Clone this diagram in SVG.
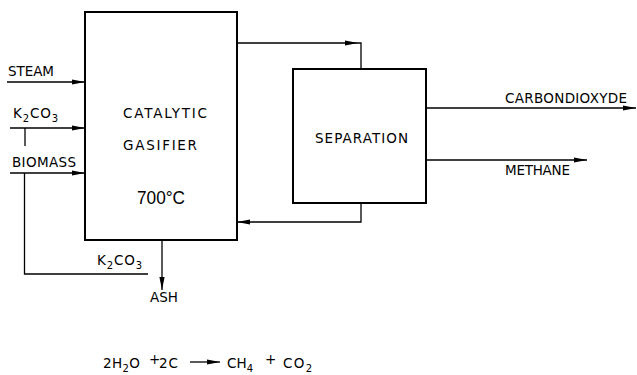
<svg xmlns="http://www.w3.org/2000/svg" xmlns:xlink="http://www.w3.org/1999/xlink" width="637" height="375" viewBox="0 0 637 375">
<style>
.box{fill:#fff;stroke:#000;stroke-width:2}
.ln{fill:none;stroke:#000;stroke-width:1.3}
.t{font-family:"DejaVu Sans","Liberation Sans",sans-serif;font-size:13.5px;fill:#000}
.big{font-family:"Liberation Sans","DejaVu Sans",sans-serif;font-size:19px;fill:#000}
.sub{font-size:10px}
</style>
<defs>
<path id="ah" d="M0,0 L-13,-2.6 L-13,2.6 Z" fill="#000"/>
</defs>
<rect width="637" height="375" fill="#fff"/>
<g id="gasifier">
<rect class="box" x="85" y="12" width="152" height="228"/>
<text class="t" x="123" y="118" textLength="84" lengthAdjust="spacing">CATALYTIC</text>
<text class="t" x="123" y="150" textLength="74" lengthAdjust="spacing">GASIFIER</text>
<text class="big" x="137" y="204" textLength="48" lengthAdjust="spacingAndGlyphs">700°C</text>
</g>
<g id="separation">
<rect class="box" x="293" y="69" width="133" height="134"/>
<text class="t" x="315" y="143" textLength="93" lengthAdjust="spacing">SEPARATION</text>
</g>
<g id="connectors">
<path class="ln" d="M7,82 H85"/><use href="#ah" x="85" y="82"/>
<path class="ln" d="M10,128 H85"/><use href="#ah" x="85" y="128"/>
<path class="ln" d="M25,128 V146"/>
<path class="ln" d="M10,173 H85"/><use href="#ah" x="85" y="173"/>
<path class="ln" d="M24.5,173 V274 H148"/>
<path class="ln" d="M162,240 V290"/><use href="#ah" transform="translate(162,290) rotate(90)"/>
<path class="ln" d="M237,43 H361 V69"/><use href="#ah" x="358" y="43"/>
<path class="ln" d="M361,203 V222 H237"/><use href="#ah" transform="translate(237,222) rotate(180)"/>
<path class="ln" d="M426,108 H636"/><use href="#ah" x="636" y="108"/>
<path class="ln" d="M426,160 H587"/><use href="#ah" x="587" y="160"/>
</g>
<g id="labels">
<text class="t" x="8" y="76" textLength="46" lengthAdjust="spacing">STEAM</text>
<text class="t" x="13" y="118" textLength="45" lengthAdjust="spacing">K<tspan class="sub" dy="4">2</tspan><tspan dy="-4">CO</tspan><tspan class="sub" dy="4">3</tspan></text>
<text class="t" x="12" y="167" textLength="64" lengthAdjust="spacing">BIOMASS</text>
<text class="t" x="97" y="265" textLength="45" lengthAdjust="spacing">K<tspan class="sub" dy="4">2</tspan><tspan dy="-4">CO</tspan><tspan class="sub" dy="4">3</tspan></text>
<text class="t" x="150" y="302" textLength="28" lengthAdjust="spacing">ASH</text>
<text class="t" x="505" y="103" textLength="122" lengthAdjust="spacing">CARBONDIOXYDE</text>
<text class="t" x="505" y="175" textLength="65" lengthAdjust="spacing">METHANE</text>
</g>
<g id="equation">
<text class="t" x="103" y="368" textLength="37" lengthAdjust="spacing">2H<tspan class="sub" dy="4">2</tspan><tspan dy="-4">O</tspan></text>
<text class="t" x="149" y="364" font-size="11">+</text>
<text class="t" x="159" y="368" textLength="19" lengthAdjust="spacing">2C</text>
<path class="ln" d="M190,362 H220"/><use href="#ah" x="220" y="362"/>
<text class="t" x="227" y="368" textLength="26" lengthAdjust="spacing">CH<tspan class="sub" dy="4">4</tspan></text>
<text class="t" x="265" y="364" font-size="11">+</text>
<text class="t" x="283" y="368" textLength="29" lengthAdjust="spacing">CO<tspan class="sub" dy="4">2</tspan></text>
</g>
</svg>
